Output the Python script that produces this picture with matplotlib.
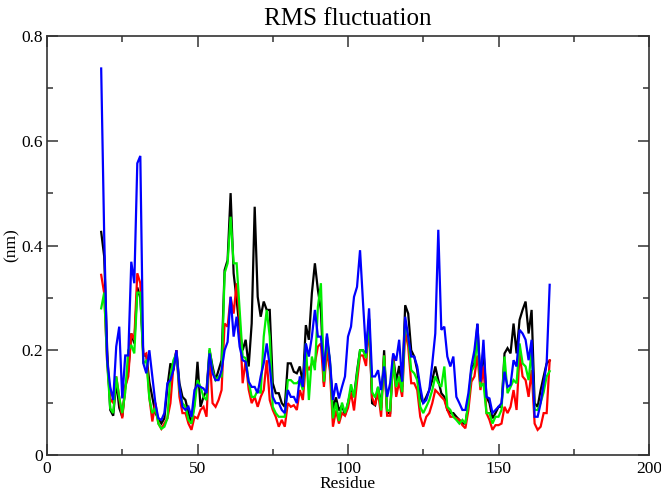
import matplotlib
matplotlib.use("Agg")
import matplotlib.pyplot as plt
import numpy as np
from matplotlib.ticker import MultipleLocator, FixedLocator

residues = list(range(18, 168))

black = [
    0.426, 0.379, 0.2, 0.086, 0.075, 0.14, 0.09, 0.073, 0.13, 0.16,
    0.232, 0.213, 0.32, 0.30, 0.19, 0.19, 0.14, 0.11, 0.08, 0.07,
    0.06, 0.07, 0.13, 0.175, 0.162, 0.2, 0.137, 0.111, 0.105, 0.08,
    0.06, 0.099, 0.178, 0.092, 0.111, 0.124, 0.2, 0.169, 0.143, 0.162,
    0.181, 0.353, 0.372, 0.5, 0.347, 0.296, 0.239, 0.2, 0.22, 0.169,
    0.251, 0.474, 0.302, 0.264, 0.293, 0.277, 0.277, 0.137, 0.118, 0.118,
    0.099, 0.092, 0.175, 0.175, 0.159, 0.156, 0.169, 0.137, 0.248, 0.22,
    0.309, 0.366, 0.315, 0.277, 0.137, 0.226, 0.175, 0.088, 0.11, 0.085,
    0.095, 0.076, 0.1, 0.124, 0.111, 0.16, 0.2, 0.2, 0.19, 0.26,
    0.099, 0.095, 0.13, 0.09, 0.2, 0.08, 0.08, 0.19, 0.14, 0.17,
    0.13, 0.286, 0.27, 0.2, 0.188, 0.162, 0.111, 0.099, 0.111, 0.124,
    0.143, 0.169, 0.143, 0.118, 0.111, 0.086, 0.08, 0.08, 0.073, 0.067,
    0.06, 0.06, 0.099, 0.165, 0.175, 0.25, 0.143, 0.2, 0.111, 0.099,
    0.07, 0.08, 0.092, 0.092, 0.194, 0.204, 0.194, 0.251, 0.194, 0.258,
    0.277, 0.293, 0.232, 0.277, 0.099, 0.092, 0.124, 0.15, 0.175, 0.18,
]

red = [
    0.344, 0.309, 0.175, 0.108, 0.099, 0.15, 0.11, 0.07, 0.13, 0.15,
    0.232, 0.22, 0.347, 0.328, 0.19, 0.194, 0.11, 0.064, 0.1, 0.06,
    0.05, 0.06, 0.07, 0.099, 0.17, 0.2, 0.111, 0.08, 0.08, 0.06,
    0.048, 0.073, 0.07, 0.086, 0.092, 0.073, 0.194, 0.099, 0.092, 0.105,
    0.124, 0.251, 0.245, 0.302, 0.27, 0.328, 0.258, 0.137, 0.18, 0.125,
    0.099, 0.111, 0.092, 0.111, 0.124, 0.181, 0.105, 0.086, 0.073, 0.054,
    0.067, 0.054, 0.099, 0.092, 0.095, 0.086, 0.124, 0.105, 0.175, 0.162,
    0.175, 0.175, 0.207, 0.213, 0.13, 0.2, 0.16, 0.054, 0.085, 0.06,
    0.08, 0.075, 0.09, 0.12, 0.085, 0.14, 0.19, 0.19, 0.17, 0.25,
    0.11, 0.095, 0.12, 0.073, 0.19, 0.075, 0.075, 0.19, 0.111, 0.14,
    0.111, 0.236, 0.207, 0.137, 0.137, 0.124, 0.073, 0.054, 0.073, 0.08,
    0.099, 0.124, 0.118, 0.111, 0.105, 0.086, 0.073, 0.073, 0.07, 0.067,
    0.057, 0.051, 0.086, 0.14, 0.15, 0.19, 0.124, 0.169, 0.08, 0.067,
    0.048, 0.057, 0.057, 0.06, 0.092, 0.08, 0.092, 0.124, 0.086, 0.194,
    0.15, 0.143, 0.111, 0.162, 0.06, 0.048, 0.054, 0.08, 0.08, 0.181,
]

green = [
    0.28, 0.31, 0.175, 0.089, 0.08, 0.15, 0.11, 0.08, 0.12, 0.2,
    0.21, 0.194, 0.31, 0.31, 0.175, 0.18, 0.108, 0.08, 0.09, 0.06,
    0.05, 0.054, 0.07, 0.15, 0.181, 0.194, 0.124, 0.099, 0.092, 0.067,
    0.06, 0.092, 0.143, 0.13, 0.111, 0.105, 0.204, 0.162, 0.143, 0.15,
    0.15, 0.347, 0.366, 0.455, 0.366, 0.366, 0.277, 0.188, 0.185, 0.14,
    0.111, 0.111, 0.124, 0.118, 0.226, 0.277, 0.226, 0.092, 0.08, 0.073,
    0.073, 0.073, 0.143, 0.143, 0.137, 0.137, 0.143, 0.124, 0.213, 0.105,
    0.188, 0.162, 0.283, 0.328, 0.14, 0.22, 0.18, 0.07, 0.1, 0.065,
    0.1, 0.08, 0.1, 0.135, 0.11, 0.155, 0.2, 0.2, 0.185, 0.26,
    0.12, 0.11, 0.13, 0.085, 0.19, 0.085, 0.085, 0.18, 0.13, 0.15,
    0.12, 0.251, 0.226, 0.162, 0.156, 0.143, 0.092, 0.08, 0.092, 0.105,
    0.124, 0.15, 0.137, 0.13, 0.169, 0.092, 0.086, 0.073, 0.067, 0.06,
    0.067, 0.06, 0.099, 0.16, 0.17, 0.226, 0.13, 0.137, 0.08, 0.08,
    0.06, 0.073, 0.073, 0.086, 0.188, 0.118, 0.13, 0.143, 0.137, 0.213,
    0.175, 0.169, 0.143, 0.2, 0.086, 0.086, 0.1, 0.12, 0.15, 0.16,
]

blue = [
    0.738, 0.42, 0.18, 0.13, 0.105, 0.207, 0.245, 0.108, 0.19, 0.19,
    0.369, 0.328, 0.557, 0.571, 0.175, 0.156, 0.2, 0.15, 0.099, 0.07,
    0.067, 0.08, 0.137, 0.143, 0.162, 0.2, 0.13, 0.092, 0.086, 0.092,
    0.073, 0.124, 0.134, 0.13, 0.127, 0.118, 0.194, 0.156, 0.143, 0.143,
    0.162, 0.2, 0.216, 0.302, 0.226, 0.264, 0.207, 0.181, 0.178, 0.14,
    0.13, 0.13, 0.118, 0.15, 0.175, 0.213, 0.169, 0.111, 0.099, 0.099,
    0.086, 0.08, 0.124, 0.111, 0.111, 0.099, 0.15, 0.13, 0.213, 0.188,
    0.226, 0.277, 0.226, 0.226, 0.16, 0.232, 0.18, 0.105, 0.137, 0.108,
    0.13, 0.15, 0.226, 0.245, 0.302, 0.321, 0.391, 0.29, 0.194, 0.28,
    0.15, 0.15, 0.162, 0.124, 0.169, 0.111, 0.137, 0.194, 0.18, 0.22,
    0.14, 0.264, 0.226, 0.188, 0.188, 0.169, 0.13, 0.099, 0.105, 0.124,
    0.175, 0.232, 0.43, 0.239, 0.245, 0.188, 0.169, 0.188, 0.111, 0.099,
    0.086, 0.086, 0.118, 0.17, 0.2, 0.251, 0.14, 0.22, 0.111, 0.108,
    0.08, 0.086, 0.092, 0.099, 0.159, 0.13, 0.134, 0.181, 0.169, 0.239,
    0.232, 0.22, 0.181, 0.22, 0.073, 0.073, 0.099, 0.137, 0.175, 0.325,
]

series = [(black, "#000000"), (red, "#ff0000"), (green, "#00ee00"), (blue, "#0000ff")]

x_ticks = [0, 50, 100, 150, 200]
y_ticks = [0, 0.2, 0.4, 0.6, 0.8]
y_tick_labels = ["0", "0.2", "0.4", "0.6", "0.8"]

plt.rcParams['font.family'] = ['Liberation Serif', 'DejaVu Serif']

fig = plt.figure(figsize=(6.61, 4.92), dpi=100)
ax = fig.add_axes([47/661, 37/492, 602/661, 419/492])

for vals, col in series:
    ax.plot(residues, vals, color=col, linewidth=1.6, solid_joinstyle='miter')

ax.set_xlim(0, 200)
ax.set_ylim(0, 0.8)
ax.xaxis.set_major_locator(FixedLocator(x_ticks))
ax.xaxis.set_minor_locator(MultipleLocator(25))
ax.yaxis.set_major_locator(FixedLocator(y_ticks))
ax.yaxis.set_minor_locator(MultipleLocator(0.1))
ax.set_yticklabels(y_tick_labels)
ax.set_xticklabels([str(t) for t in x_ticks])

ax.tick_params(which='both', direction='in', top=True, right=True,
               labelsize=12.5, color='#333333', width=1.1)
ax.tick_params(which='major', length=8)
ax.tick_params(axis='x', which='major', pad=4)
ax.tick_params(axis='y', which='major', pad=3)
ax.tick_params(which='minor', length=4)
for s in ax.spines.values():
    s.set_linewidth(1.2)
    s.set_color('#333333')

ax.set_title("RMS fluctuation", fontsize=18, pad=8)
ax.set_xlabel("Residue", fontsize=12.5)
ax.set_ylabel("(nm)", fontsize=12.5)
ax.xaxis.set_label_coords(0.5, -0.049)
ax.yaxis.set_label_coords(-0.045, 0.5)

fig.savefig("out.png", dpi=100)
